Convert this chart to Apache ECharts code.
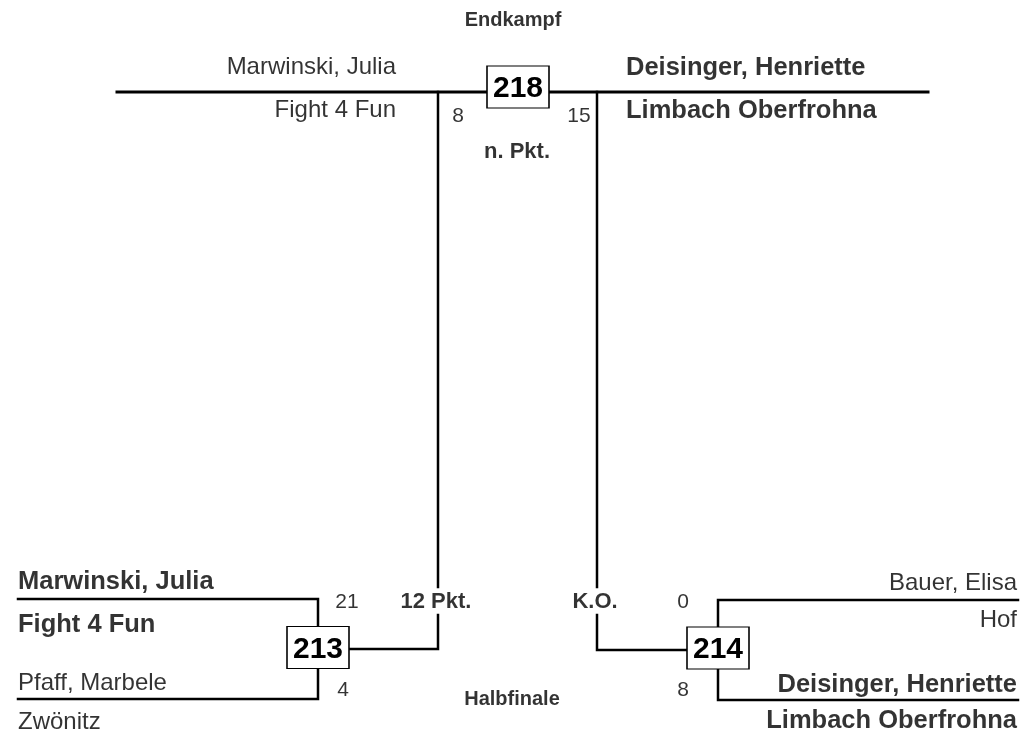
<!DOCTYPE html>
<html>
<head>
<meta charset="utf-8">
<script src="https://cdn.jsdelivr.net/npm/echarts@6/dist/echarts.min.js"></script>
<style>
html,body{margin:0;padding:0;background:#fff;}
#chart{width:1023px;height:737px;}
</style>
</head>
<body>
<div id="chart"></div>
<script>
// ---------- data ----------
const roundLabels = ['Endkampf', 'Halbfinale'];
const matchNumbers = [218, 213, 214];           // final, semi 1, semi 2
const finalNames = ['Marwinski, Julia', 'Deisinger, Henriette'];
const finalClubs = ['Fight 4 Fun', 'Limbach Oberfrohna'];
const finalScores = [8, 15];
const finalWinner = 1;
const semi1Names = ['Marwinski, Julia', 'Pfaff, Marbele'];
const semi1Clubs = ['Fight 4 Fun', 'Zwönitz'];
const semi1Scores = [21, 4];
const semi1Winner = 0;
const semi2Names = ['Bauer, Elisa', 'Deisinger, Henriette'];
const semi2Clubs = ['Hof', 'Limbach Oberfrohna'];
const semi2Scores = [0, 8];
const semi2Winner = 1;
const results = ['n. Pkt.', '12 Pkt.', 'K.O.'];  // final, semi 1, semi 2

// ---------- layout (pixel units of the drawing area) ----------
const W = 1023, H = 737;
const FONT = '"Liberation Sans", Arial, Helvetica, sans-serif';
const NAME_SIZE = 24, NAME_BOLD_SIZE = 25.5, LABEL_SIZE = 20, RESULT_SIZE = 22, SCORE_SIZE = 21, BOX_SIZE = 30;
const BOX_W = 62, BOX_H = 42;

const boxPos = [[518, 87], [318, 647.5], [718, 648]];

const linePaths = [
  // final line
  {w: 3, c: [[117, 92], [928, 92]]},
  // connectors from semis to final
  {w: 2.5, c: [[438, 92], [438, 587]]},
  {w: 2.5, c: [[438, 615], [438, 649], [349, 649]]},
  {w: 2.5, c: [[597, 92], [597, 587]]},
  {w: 2.5, c: [[597, 615], [597, 650], [687, 650]]},
  // semi 1 bracket
  {w: 2.5, c: [[18, 599], [318, 599], [318, 626]]},
  {w: 2.5, c: [[318, 669], [318, 699], [18, 699]]},
  // semi 2 bracket
  {w: 2.5, c: [[1018, 600], [718, 600], [718, 627]]},
  {w: 2.5, c: [[718, 669], [718, 700], [1018, 700]]}
];

const texts = [];
function t(x, y, text, align, bold, size) {
  texts.push({value: [x, y], text: String(text), align: align, bold: bold, size: size});
}
function nm(x, y, text, align, bold) {
  t(x, y, text, align, bold, bold ? NAME_BOLD_SIZE : NAME_SIZE);
}
// round labels
t(513, 20, roundLabels[0], 'center', true, LABEL_SIZE);
t(512, 699, roundLabels[1], 'center', true, LABEL_SIZE);
// final
nm(396, 67, finalNames[0], 'right', finalWinner === 0);
nm(396, 110, finalClubs[0], 'right', finalWinner === 0);
nm(626, 68, finalNames[1], 'left', finalWinner === 1);
nm(626, 111, finalClubs[1], 'left', finalWinner === 1);
t(458, 116, finalScores[0], 'center', false, SCORE_SIZE);
t(579, 116, finalScores[1], 'center', false, SCORE_SIZE);
t(517, 152, results[0], 'center', true, RESULT_SIZE);
// semi 1
nm(18, 582, semi1Names[0], 'left', semi1Winner === 0);
nm(18, 625, semi1Clubs[0], 'left', semi1Winner === 0);
nm(18, 683, semi1Names[1], 'left', semi1Winner === 1);
nm(18, 722, semi1Clubs[1], 'left', semi1Winner === 1);
t(347, 602, semi1Scores[0], 'center', false, SCORE_SIZE);
t(343, 690, semi1Scores[1], 'center', false, SCORE_SIZE);
t(436, 602, results[1], 'center', true, RESULT_SIZE);
// semi 2
nm(1017, 583, semi2Names[0], 'right', semi2Winner === 0);
nm(1017, 620, semi2Clubs[0], 'right', semi2Winner === 0);
nm(1017, 685, semi2Names[1], 'right', semi2Winner === 1);
nm(1017, 721, semi2Clubs[1], 'right', semi2Winner === 1);
t(683, 602, semi2Scores[0], 'center', false, SCORE_SIZE);
t(683, 690, semi2Scores[1], 'center', false, SCORE_SIZE);
t(595, 602, results[2], 'center', true, RESULT_SIZE);

const chart = echarts.init(document.getElementById('chart'), null, {renderer: 'canvas'});
chart.setOption({
  backgroundColor: '#ffffff',
  animation: false,
  grid: {left: 0, right: 0, top: 0, bottom: 0},
  xAxis: {type: 'value', min: 0, max: W, show: false},
  yAxis: {type: 'value', min: 0, max: H, inverse: true, show: false},
  series: [
    {
      type: 'lines',
      coordinateSystem: 'cartesian2d',
      polyline: true,
      z: 1,
      silent: true,
      data: linePaths.map(p => ({coords: p.c, lineStyle: {width: p.w}})),
      lineStyle: {color: '#000', opacity: 1, cap: 'square', join: 'miter'}
    },
    {
      type: 'scatter',
      z: 3,
      silent: true,
      symbol: 'rect',
      symbolSize: [BOX_W, BOX_H],
      itemStyle: {color: '#fff', borderColor: '#000', borderWidth: 1.3, opacity: 1},
      data: matchNumbers.map((n, i) => ({value: boxPos[i], name: String(n)})),
      label: {
        show: true, position: 'inside', formatter: p => p.name,
        color: '#000', fontFamily: FONT, fontWeight: 'bold', fontSize: BOX_SIZE,
        offset: [0, 2]
      }
    },
    {
      type: 'scatter',
      z: 4,
      silent: true,
      symbolSize: 0,
      itemStyle: {color: 'rgba(0,0,0,0)'},
      data: texts.map(d => ({
        value: d.value,
        label: {
          show: true, position: 'inside', formatter: d.text,
          align: d.align, verticalAlign: 'middle',
          color: '#000', fontFamily: FONT,
          fontWeight: d.bold ? 'bold' : 'normal', fontSize: d.size
        }
      }))
    }
  ]
});
</script>
</body>
</html>
